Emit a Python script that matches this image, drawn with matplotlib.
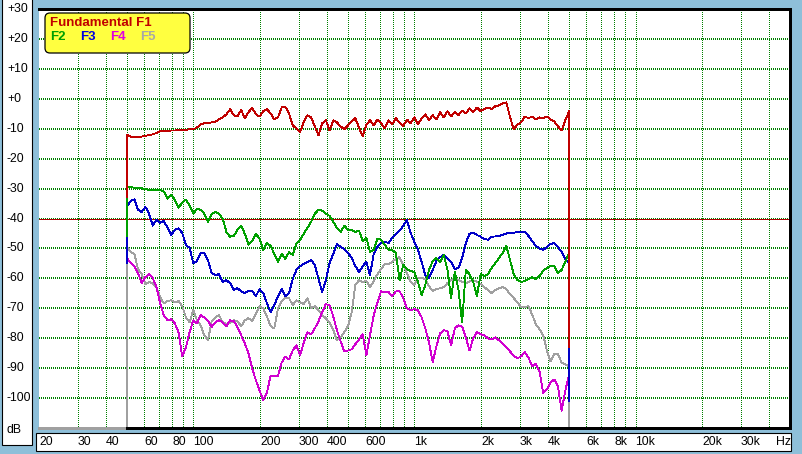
import matplotlib
matplotlib.use('Agg')
import matplotlib.pyplot as plt
from matplotlib.patches import Rectangle, FancyBboxPatch
from matplotlib.transforms import blended_transform_factory
from matplotlib.ticker import NullLocator

# ---------------- data ----------------
freq = [50, 52.0, 54.0, 56.1, 58.3, 60.6, 62.9, 65.4, 68.0, 70.6, 73.4, 76.3, 79.2, 82.3, 85.6,
        88.9, 92.4, 96.0, 99.8, 103.7, 107.7, 111.9, 116.3, 120.9, 125.6, 130.5, 135.6, 140.9,
        146.4, 152.2, 158.1, 164.3, 170.7, 177.4, 184.3, 191.6, 199.1, 206.8, 214.9, 223.3, 232.1,
        241.2, 250.6, 260.4, 270.6, 281.2, 292.2, 303.6, 315.5, 327.8, 340.6, 354.0, 367.8, 382.2,
        397.2, 412.7, 428.9, 445.6, 463.1, 481.2, 500, 520, 540, 561, 583, 606, 629, 654, 680, 706,
        734, 763, 792, 823, 856, 889, 924, 960, 998, 1037, 1077, 1119, 1163, 1209, 1256, 1305, 1356,
        1409, 1464, 1522, 1581, 1643, 1707, 1774, 1843, 1916, 1991, 2068, 2149, 2233, 2321, 2412,
        2506, 2604, 2706, 2812, 2922, 3036, 3155, 3278, 3406, 3540, 3678, 3822, 3972, 4127, 4289,
        4456, 4631, 4812, 5000]

f1 = [-11.9, -12.6, -12.9, -12.9, -12.6, -12.4, -12.1, -11.9, -11.4, -10.9,
      -10.6, -10.7, -10.6, -10.6, -10.4, -10.5, -10.4, -10.2, -10.2, -9.6,
      -8.6, -8.2, -8.1, -7.9, -7.6, -6.9, -6.2, -5.2, -3.5, -5.5,
      -5.9, -3.7, -6.5, -4.5, -3.0, -5.2, -5.9, -4.2, -3.5, -4.9,
      -6.9, -6.2, -2.9, -2.7, -4.9, -8.9, -9.9, -11.2, -7.6, -5.5,
      -6.2, -9.2, -12.2, -8.2, -7.2, -10.6, -7.2, -7.9, -9.2, -10.2,
      -8.9, -7.6, -6.5, -9.6, -12.6, -8.6, -7.2, -8.9, -6.9, -8.2,
      -9.9, -7.2, -8.6, -6.5, -7.9, -9.2, -6.9, -8.2, -6.2, -8.6,
      -6.5, -5.2, -7.2, -5.5, -6.9, -4.5, -6.2, -4.2, -5.9, -4.5,
      -5.5, -3.9, -4.9, -3.2, -4.5, -2.9, -4.1, -3.5, -2.9, -3.5,
      -2.5, -2.2, -1.5, -1.2, -6.2, -10.2, -8.6, -7.9, -5.9, -6.5,
      -5.9, -6.9, -6.2, -6.5, -5.9, -6.9, -7.6, -9.2, -10.6, -7.2,
      -4.2]

f2 = [-29.5, -29.5, -29.7, -29.7, -29.9, -30.2, -30.4, -30.4, -30.4, -30.4,
      -31.0, -33.4, -32.0, -33.7, -36.4, -34.7, -33.7, -35.7, -38.4, -36.7,
      -37.1, -38.4, -41.1, -38.4, -37.8, -38.4, -40.1, -44.5, -46.1, -45.8,
      -43.8, -42.4, -45.1, -48.8, -47.5, -45.1, -46.8, -50.5, -48.2, -49.2,
      -51.8, -54.5, -51.8, -53.5, -51.2, -52.2, -48.5, -47.1, -45.1, -43.1,
      -41.1, -38.4, -37.1, -37.4, -38.4, -39.1, -41.1, -43.1, -44.5, -42.4,
      -43.8, -43.8, -44.5, -44.1, -47.5, -46.5, -51.2, -50.5, -46.8, -47.1,
      -48.8, -50.5, -50.5, -51.5, -60.6, -55.5, -56.9, -57.5, -57.9, -61.2,
      -65.6, -62.2, -57.2, -54.2, -53.2, -54.5, -52.2, -57.0, -66.6, -57.9,
      -63.9, -74.7, -57.2, -58.6, -61.2, -65.9, -58.6, -59.2, -58.6, -56.5,
      -54.9, -53.2, -51.5, -49.2, -53.9, -58.6, -60.6, -61.2, -60.9, -60.2,
      -59.6, -60.2, -59.2, -57.5, -56.5, -55.9, -55.9, -58.2, -57.2, -54.5,
      -51.5]

f3 = [-36.0, -34.1, -33.6, -37.1, -37.8, -36.1, -38.4, -42.4, -40.4, -41.4,
      -40.8, -43.1, -45.5, -43.8, -43.3, -44.8, -48.8, -49.8, -54.9, -54.2,
      -51.5, -51.5, -53.9, -58.2, -58.9, -58.6, -61.2, -60.6, -61.6, -63.9,
      -63.3, -64.3, -64.9, -64.3, -64.3, -65.9, -63.6, -64.9, -68.3, -71.3,
      -69.0, -65.9, -63.6, -65.9, -64.9, -60.2, -57.2, -55.9, -55.2, -54.5,
      -53.9, -55.5, -60.2, -64.6, -60.6, -54.9, -51.8, -48.5, -49.5, -50.2,
      -51.5, -53.2, -55.9, -57.9, -55.9, -54.5, -58.9, -51.8, -49.5, -48.2,
      -47.8, -48.2, -46.5, -45.1, -44.1, -42.4, -40.6, -44.8, -47.8, -50.5,
      -54.5, -58.9, -59.9, -57.2, -54.2, -52.9, -52.2, -53.2, -54.5, -56.9,
      -56.5, -53.2, -48.2, -45.1, -44.8, -45.5, -46.1, -46.8, -47.1, -46.1,
      -46.0, -45.8, -45.5, -45.0, -44.8, -44.8, -44.5, -44.5, -44.5, -45.8,
      -47.5, -49.2, -50.0, -50.5, -49.5, -48.5, -48.2, -49.5, -51.2, -53.5,
      -54.9]

f4 = [-53.2, -54.9, -55.9, -58.2, -61.6, -59.6, -58.6, -59.9, -62.9, -68.3,
      -72.3, -74.0, -73.7, -75.0, -78.0, -86.1, -83.1, -78.0, -74.0, -75.0,
      -72.3, -73.0, -74.3, -76.2, -74.7, -74.0, -74.7, -76.0, -74.0, -74.3,
      -76.3, -79.0, -81.7, -85.1, -90.1, -94.1, -97.5, -100.8, -98.2, -92.5,
      -92.8, -92.5, -88.1, -86.1, -87.1, -84.1, -82.4, -85.7, -81.4, -78.0,
      -78.7, -76.7, -74.3, -71.3, -68.6, -69.0, -72.7, -77.3, -81.0, -84.4,
      -84.1, -83.7, -82.0, -80.4, -78.7, -85.7, -79.0, -72.3, -68.0, -64.3,
      -64.6, -64.6, -65.9, -64.4, -64.3, -66.6, -70.0, -70.6, -70.3, -70.6,
      -73.0, -76.7, -81.4, -88.1, -82.7, -78.4, -77.3, -77.7, -82.4, -76.7,
      -75.7, -76.2, -79.7, -84.1, -80.0, -78.0, -78.7, -79.0, -80.0, -80.4,
      -79.7, -80.7, -81.9, -83.1, -84.4, -85.9, -86.7, -86.1, -84.7, -86.4,
      -89.4, -88.6, -91.1, -98.2, -97.1, -94.8, -93.8, -96.1, -104.2, -97.5,
      -92.5]

f5 = [-49.5, -51.2, -51.8, -56.9, -58.6, -61.9, -61.2, -61.6, -62.9, -66.3,
      -68.3, -67.6, -67.3, -68.0, -67.6, -69.3, -73.0, -74.7, -70.6, -74.0,
      -75.7, -79.0, -80.7, -74.3, -73.0, -72.3, -74.7, -75.3, -74.9, -74.0,
      -74.3, -76.0, -74.0, -73.3, -74.3, -71.8, -69.3, -70.0, -72.7, -76.0,
      -76.7, -70.0, -67.6, -66.3, -66.6, -69.0, -67.3, -68.0, -68.6, -66.6,
      -70.0, -69.3, -70.6, -72.3, -73.3, -74.9, -77.3, -80.7, -79.7, -78.0,
      -76.0, -71.3, -62.2, -60.6, -61.2, -60.9, -62.9, -60.9, -58.6, -56.9,
      -55.2, -55.2, -54.5, -53.5, -52.9, -55.5, -58.2, -61.2, -62.2, -59.9,
      -59.9, -60.2, -62.6, -64.3, -63.6, -63.3, -62.9, -61.6, -60.6, -59.9,
      -60.6, -61.2, -61.6, -61.1, -60.6, -61.1, -61.9, -62.9, -63.9, -64.9,
      -63.9, -63.3, -62.9, -63.6, -65.3, -66.6, -68.0, -69.6, -69.6, -69.3,
      -72.1, -75.3, -77.0, -79.0, -84.1, -87.8, -85.1, -85.4, -88.1, -88.8,
      -89.4]

series_names = ['F1', 'F2', 'F3', 'F4', 'F5']
series_vals = [f1, f2, f3, f4, f5]
start_vals = [-33, -46, -55, -55, -110]     # level at 50 Hz before the sweep
end_vals = [-83, -83, -101, -101, -110]     # level after the sweep ends at 5 kHz
series_colors = ['#C00000', '#00A000', '#0000C8', '#D000D0', '#A0A0A0']

ytick_vals = [30, 20, 10, 0, -10, -20, -30, -40, -50, -60, -70, -80, -90, -100]
ytick_txt = ['+30', '+20', '+10', '+0', '-10', '-20', '-30', '-40', '-50', '-60',
             '-70', '-80', '-90', '-100']
xtick_vals = [20, 30, 40, 60, 80, 100, 200, 300, 400, 600, 1000, 2000, 3000, 4000,
              6000, 8000, 10000, 20000, 30000]
xtick_txt = ['20', '30', '40', '60', '80', '100', '200', '300', '400', '600', '1k', '2k',
             '3k', '4k', '6k', '8k', '10k', '20k', '30k']
xgrid = [30, 40, 50, 60, 70, 80, 90, 100, 200, 300, 400, 500, 600, 700, 800, 900,
         1000, 2000, 3000, 4000, 5000, 6000, 7000, 8000, 9000, 10000, 20000, 30000, 40000]
ygrid = [20, 10, 0, -10, -20, -30, -40, -50, -60, -70, -80, -90, -100]

# ---------------- figure ----------------
W, H = 803, 454
fig = plt.figure(figsize=(W / 100, H / 100), dpi=100)
fig.patch.set_facecolor('#8EBFD9')

L, R, T, B = 39, 790, 9, 428
ax = fig.add_axes([L / W, 1 - B / H, (R - L) / W, (B - T) / H])
ax.set_xscale('log')
ax.set_xlim(20, 50000)
ax.set_ylim(-110, 30)
ax.set_facecolor('white')
for s in ax.spines.values():
    s.set_visible(False)
ax.set_xticks([])
ax.set_yticks([])
ax.xaxis.set_minor_locator(NullLocator())
ax.yaxis.set_minor_locator(NullLocator())

# dotted grid (1 px dots, 2 px period)
for f in xgrid:
    ax.axvline(f, color='#008000', lw=0.72, ls=(0, (0.5, 1.5)), antialiased=False, zorder=1)
for v in ygrid:
    ax.axhline(v, color='#008000', lw=1.44, ls=(0, (0.35, 0.65)), antialiased=False, zorder=1)

ax.axhline(-40, color='#B00000', lw=0.72, antialiased=False, zorder=2)

# frame
fkw = dict(lw=0.8, antialiased=False, clip_on=False, zorder=6)
ax.plot([20, 50000], [30, 30], color='black', **fkw)
ax.plot([50000, 50000], [-110, 30], color='black', **fkw)
ax.plot([20, 50], [-110, -110], color='#A0A0A0', **fkw)
ax.plot([50, 50000], [-110, -110], color='black', **fkw)

# curves: drawn F5 first so F1 ends up on top
for i in range(4, -1, -1):
    xs = [50] + freq + [5000]
    ys = [start_vals[i]] + series_vals[i] + [end_vals[i]]
    ax.plot(xs, ys, color=series_colors[i], lw=0.62, antialiased=False,
            zorder=3 + (4 - i) * 0.1)

# ---------------- overlay (pixel coordinates) ----------------
oax = fig.add_axes([0, 0, 1, 1])
oax.set_xlim(0, W)
oax.set_ylim(H, 0)
oax.axis('off')
oax.patch.set_alpha(0)

oax.add_patch(Rectangle((2, -3), 30.5, 448, fc='white', ec='black', lw=0.8, zorder=1))
oax.add_patch(Rectangle((36, 433), 755, 18, fc='white', ec='black', lw=0.8, zorder=1))

font = 'Liberation Sans'
ty = blended_transform_factory(oax.transData, ax.transData)
for v, t in zip(ytick_vals, ytick_txt):
    oax.text(7, v, t, transform=ty, ha='left', va='center', fontsize=8.8,
             family=font, color='black', zorder=3)
oax.text(7, 430, 'dB', ha='left', va='center', fontsize=8.8, family=font, zorder=3)

tx = blended_transform_factory(ax.transData, oax.transData)
for f, t in zip(xtick_vals, xtick_txt):
    oax.text(f, 442, t, transform=tx, ha='left', va='center', fontsize=8.8,
             family=font, color='black', zorder=3)
oax.text(776, 442, 'Hz', ha='left', va='center', fontsize=8.8, family=font, zorder=3)

# legend box
oax.add_patch(FancyBboxPatch((45, 13), 145, 40, boxstyle='round,pad=0,rounding_size=5',
                             fc='#FFFF40', ec='black', lw=0.9, zorder=4))
oax.text(50, 22.5, 'Fundamental F1', ha='left', va='center', fontsize=9.5,
         fontweight='bold', family=font, color='#C00000', zorder=5)
leg_x = [50, 80, 110, 140]
leg_c = ['#00A000', '#0000E0', '#E000E0', '#A8A8A8']
for x, n, c in zip(leg_x, series_names[1:], leg_c):
    oax.text(x, 37.5, n, ha='left', va='center', fontsize=9.5, fontweight='bold',
             family=font, color=c, zorder=5)

fig.savefig('out.png', dpi=100, facecolor=fig.get_facecolor())
